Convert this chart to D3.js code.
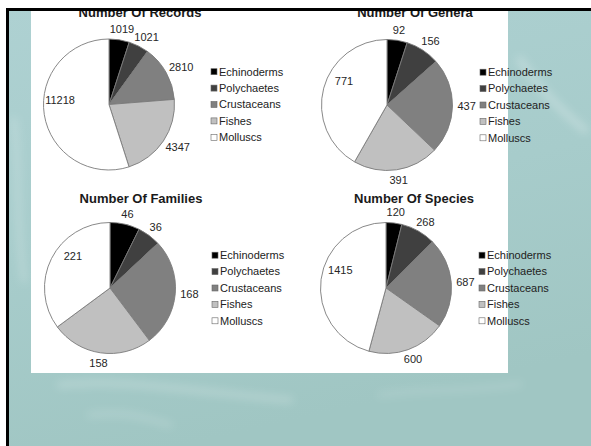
<!DOCTYPE html>
<html><head><meta charset="utf-8">
<script src="https://cdn.jsdelivr.net/npm/d3@7"></script>
<style>
body{margin:0;background:#fff}
svg{display:block}
text{font-family:"Liberation Sans",Arial,Helvetica,sans-serif}
</style>
</head><body>
<svg id="c" width="591" height="446"></svg>
<script>
// ---- data ----
const categories = ["Echinoderms", "Polychaetes", "Crustaceans", "Fishes", "Molluscs"];
const records  = [1019, 1021, 2810, 4347, 11218];
const genera   = [92, 156, 437, 391, 771];
const families = [46, 36, 168, 158, 221];
const species  = [120, 268, 687, 600, 1415];
const titles = ["Number Of Records", "Number Of Genera", "Number Of Families", "Number Of Species"];
const seriesList = [records, genera, families, species];

// ---- styles / layout ----
const colors = ["#000000", "#404040", "#808080", "#c0c0c0", "#ffffff"];
const layout = [
  {cx: 109, cy: 104.5, tx: 140, ty: 17,    lx: 211},
  {cx: 387, cy: 105,   tx: 415, ty: 17,    lx: 480},
  {cx: 110, cy: 288,   tx: 141, ty: 202.5, lx: 212},
  {cx: 386, cy: 288,   tx: 414, ty: 202.5, lx: 479}
];
const R = 65.5;

const svg = d3.select("#c");
const defs = svg.append("defs");
const grad = defs.append("linearGradient").attr("id", "bg").attr("x1", 0).attr("y1", 0).attr("x2", 0.3).attr("y2", 1);
grad.append("stop").attr("offset", "0%").attr("stop-color", "#aed1d2");
grad.append("stop").attr("offset", "55%").attr("stop-color", "#a7cccb");
grad.append("stop").attr("offset", "100%").attr("stop-color", "#a0c6c3");
defs.append("filter").attr("id", "blur").attr("x", "-20%").attr("y", "-50%").attr("width", "140%").attr("height", "200%")
  .append("feGaussianBlur").attr("stdDeviation", 4);

// slide background
svg.append("rect").attr("x", 6).attr("y", 8).attr("width", 585).attr("height", 438).attr("fill", "url(#bg)");
// soft water streaks
const streaks = svg.append("g").attr("filter", "url(#blur)").attr("fill", "none").attr("stroke", "#ffffff").attr("stroke-linecap", "round");
streaks.append("path").attr("d", "M60,385 C120,378 200,392 290,400").attr("stroke-width", 6).attr("stroke-opacity", 0.22);
streaks.append("path").attr("d", "M90,415 C130,410 150,420 170,425").attr("stroke-width", 5).attr("stroke-opacity", 0.18);
streaks.append("path").attr("d", "M520,60 C540,90 560,110 585,130").attr("stroke-width", 7).attr("stroke-opacity", 0.25);
streaks.append("path").attr("d", "M14,120 C20,160 15,220 24,280").attr("stroke-width", 6).attr("stroke-opacity", 0.2);
streaks.append("path").attr("d", "M380,395 C430,388 470,392 520,384").attr("stroke-width", 5).attr("stroke-opacity", 0.14);

// white chart panel
svg.append("rect").attr("x", 31).attr("y", 11).attr("width", 477).attr("height", 362).attr("fill", "#ffffff");

const pie = d3.pie().sort(null).value(d => d);
const arc = d3.arc().innerRadius(0).outerRadius(R);

seriesList.forEach((vals, i) => {
  const L = layout[i];
  const g = svg.append("g");
  const total = d3.sum(vals);
  const arcs = pie(vals);

  // title
  g.append("text").attr("x", L.tx).attr("y", L.ty).attr("text-anchor", "middle")
    .attr("font-size", 13).attr("font-weight", "bold").attr("fill", "#1a1a1a").text(titles[i]);

  // slices
  const pg = g.append("g").attr("transform", `translate(${L.cx},${L.cy})`);
  pg.selectAll("path").data(arcs).join("path")
    .attr("d", arc)
    .attr("fill", (d, j) => colors[j])
    .attr("stroke", "#7a7a7a").attr("stroke-width", 0.9).attr("stroke-linejoin", "round");

  // data labels
  pg.selectAll("text.lbl").data(arcs).join("text")
    .attr("class", "lbl")
    .attr("font-size", 11).attr("fill", "#262626")
    .attr("text-anchor", "middle").attr("dy", "0.35em")
    .text(d => d.data)
    .each(function (d) {
      const t = d3.select(this);
      const w = this.getComputedTextLength();
      const h = 11;
      const mid = (d.startAngle + d.endAngle) / 2;
      if (d.data / total > 0.3) {
        const a = mid + 0.245, rr = R * 0.75;
        t.attr("x", Math.sin(a) * rr).attr("y", -Math.cos(a) * rr);
      } else {
        const dx = Math.sin(mid), dy = -Math.cos(mid);
        const rr = R + 5;
        t.attr("x", dx * rr + dx * w / 2).attr("y", dy * rr + dy * h / 2);
      }
    });

  // legend
  const lg = g.append("g").attr("transform", `translate(${L.lx},${L.cy})`);
  const step = 16.4;
  const items = lg.selectAll("g").data(categories).join("g")
    .attr("transform", (d, j) => `translate(0,${(j - 2) * step})`);
  items.append("rect").attr("x", 0).attr("y", -3).attr("width", 6).attr("height", 6)
    .attr("fill", (d, j) => colors[j]).attr("stroke", "#666").attr("stroke-width", 0.6);
  items.append("text").attr("x", 8).attr("dy", "0.35em").attr("font-size", 11).attr("fill", "#222").text(d => d);
});

// black slide frame (drawn on top, clipping titles as in the picture)
svg.append("rect").attr("x", 6).attr("y", 8).attr("width", 585).attr("height", 3).attr("fill", "#000");
svg.append("rect").attr("x", 6).attr("y", 8).attr("width", 3).attr("height", 438).attr("fill", "#000");
</script>
</body></html>
